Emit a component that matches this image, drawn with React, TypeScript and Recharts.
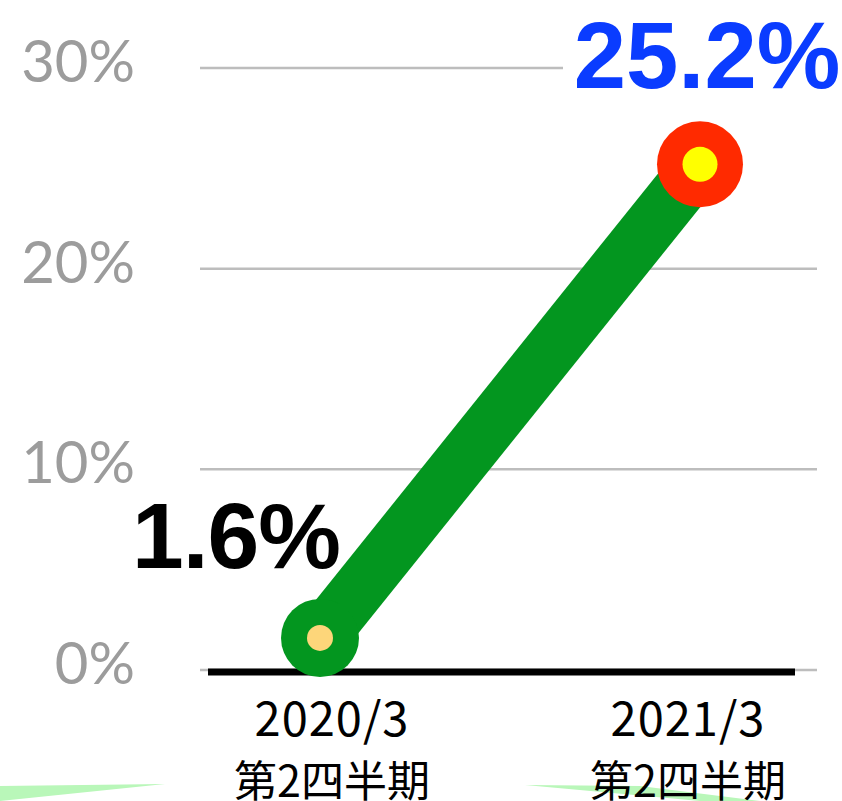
import { LineChart, Line, XAxis, YAxis, CartesianGrid, LabelList, ReferenceLine } from "recharts"

const periods = ["2020/3", "2021/3"]
const periodSub = ["第2四半期", "第2四半期"]
const rates = [1.6, 25.2]
const yTicks = [0, 10, 20, 30]

const data = periods.map((p, i) => ({ period: p, sub: periodSub[i], rate: rates[i] }))

const GREEN = "#03961f"

const Dot = (props: any) => {
  const { cx, cy, index } = props
  if (cx == null || cy == null) return null
  if (index === 0) {
    return (
      <g>
        <circle cx={cx} cy={cy} r={39} fill={GREEN} />
        <circle cx={cx} cy={cy} r={13} fill="#fdd67a" />
      </g>
    )
  }
  return (
    <g>
      <circle cx={cx} cy={cy} r={43} fill="#ff2a00" />
      <circle cx={cx} cy={cy} r={17.5} fill="#ffff00" />
    </g>
  )
}

const ValueLabel = (props: any) => {
  const { x, y, value, index } = props
  const txt = `${value}%`
  const font = "'Liberation Sans', Arial, sans-serif"
  if (index === 0) {
    return (
      <text x={x + 20} y={y - 70} textAnchor="end" fontFamily={font} fontWeight={700} fontSize={93} fill="#000" letterSpacing={-1}>
        {txt}
      </text>
    )
  }
  return (
    <g>
      <rect x={x - 137} y={y - 150} width={290} height={82} fill="#fff" />
      <text x={x + 7} y={y - 76} textAnchor="middle" fontFamily={font} fontWeight={700} fontSize={94} fill="#0a3cff">
        {txt}
      </text>
    </g>
  )
}

const YTick = (props: any) => {
  const { y, payload } = props
  return (
    <text x={135} y={y} dy={14} textAnchor="end" fontFamily="Lato, 'Liberation Sans', sans-serif" fontWeight={400} fontSize={58} fill="#9c9c9c">
      {`${payload.value}%`}
    </text>
  )
}

const XTick = (props: any) => {
  const { x, y, payload, index } = props
  const shift = index === 0 ? 12 : -12
  return (
    <g>
      <text x={x + shift} y={y + 58} textAnchor="middle" fontFamily="'Noto Sans CJK JP', sans-serif" fontSize={47} letterSpacing={1} fill="#000">
        {payload.value}
      </text>
      <text x={x + shift} y={y + 119} textAnchor="middle" fontFamily="'Noto Sans CJK JP', sans-serif" fontSize={43} fill="#000">
        {periodSub[index]}
      </text>
    </g>
  )
}

const BaseLine = (p: any) => {
  const x1 = p.x1 ?? 200
  const x2 = p.x2 ?? 817
  const y = p.y1 ?? 670
  return <line x1={x1 + 8} x2={x2 - 22} y1={y + 2} y2={y + 2} stroke="#000" strokeWidth={7} />
}

export default function App() {
  return (
    <div style={{ position: "absolute", left: 0, top: 0, width: 842, height: 801, background: "#fff", overflow: "hidden" }}>
      <svg width={842} height={801} style={{ position: "absolute", left: 0, top: 0 }}>
        <polygon points="0,786 165,784 0,801" fill="#b9f7b9" />
        <polygon points="525,785 640,786 760,801 700,801" fill="#b9f7b9" />
      </svg>
      <div style={{ position: "absolute", left: 0, top: 0 }}>
        <LineChart width={842} height={801} data={data} margin={{ top: 68, right: 25, bottom: 0, left: 0 }}>
          <CartesianGrid vertical={false} stroke="#bdbdbd" strokeWidth={2.5} />
          <XAxis
            dataKey="period"
            axisLine={false}
            tickLine={false}
            height={131}
            padding={{ left: 120, right: 117 }}
            tick={<XTick />}
            interval={0}
          />
          <YAxis
            domain={[0, 30]}
            ticks={yTicks}
            width={200}
            axisLine={false}
            tickLine={false}
            tick={<YTick />}
          />
          <Line
            dataKey="rate"
            stroke={GREEN}
            strokeWidth={54}
            dot={<Dot />}
            activeDot={false}
            isAnimationActive={false}
          >
            <LabelList dataKey="rate" content={<ValueLabel />} />
          </Line>
          <ReferenceLine y={0} shape={<BaseLine />} />
        </LineChart>
      </div>
    </div>
  )
}
